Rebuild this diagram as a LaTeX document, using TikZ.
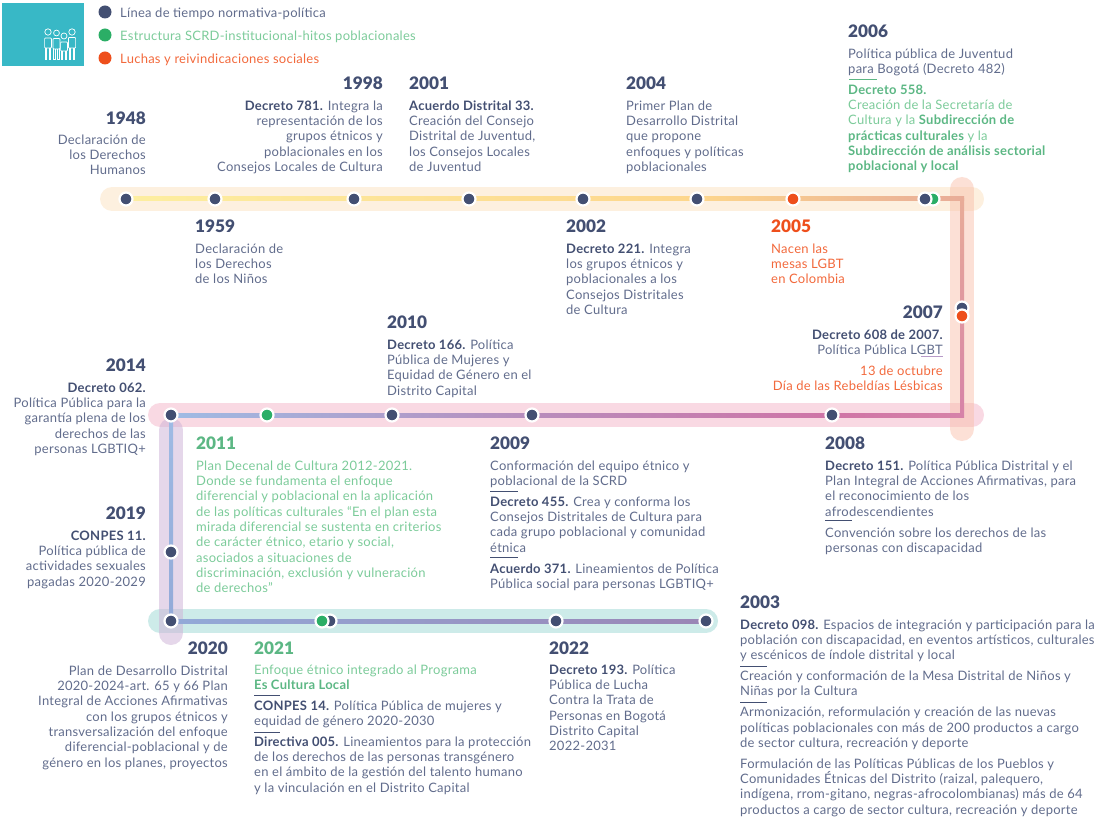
\documentclass[tikz,border=0pt]{standalone}
\usepackage{fontspec}
\setmainfont{Lato}[LetterSpace=2]
\newfontfamily\headfont{Lato Black}
\usetikzlibrary{calc}
\definecolor{navy}{HTML}{434F72}
\definecolor{verde}{HTML}{2BAE66}
\definecolor{naranja}{HTML}{EE4F1C}
\definecolor{grisazul}{HTML}{616C8C}
\definecolor{verdetxt}{HTML}{7CCB9A}
\definecolor{verdebold}{HTML}{5CB784}
\definecolor{naranjatxt}{HTML}{F2693C}
\definecolor{logo}{HTML}{38B8C6}
\definecolor{lila}{HTML}{B79AC8}
% bandas
\definecolor{bcrema}{HTML}{FDF0DF}
\definecolor{brosa}{HTML}{F9D9E3}
\definecolor{bteal}{HTML}{CDEBE9}
\definecolor{bsalmon}{HTML}{F8BEAA}
\definecolor{blila}{HTML}{D0B6D8}
% linea
\definecolor{lamarillo}{HTML}{FDEEA0}
\definecolor{lmiel}{HTML}{FDD68C}
\definecolor{lsalmon}{HTML}{E8AC98}
\definecolor{lrosa}{HTML}{D682A8}
\definecolor{lfucsia}{HTML}{CF74A6}
\definecolor{lmalva}{HTML}{B88CBC}
\definecolor{lazul}{HTML}{9FBBE4}
\definecolor{lazulb}{HTML}{93AAD8}
\definecolor{lviola}{HTML}{9A85B5}
\tikzset{
  band/.style={line width=24pt,line cap=round,draw=#1},
  dot/.style={circle,fill=#1,draw=white,line width=2.2pt,minimum size=13pt,inner sep=0pt},
  year/.style={inner sep=0pt,yshift=-1pt,text=#1,font=\headfont\fontsize{17.2}{18}\selectfont},
  txt/.style={inner sep=0pt,yshift=-2.5pt,text=#1,font=\fontsize{13}{15.3}\selectfont,execute at begin node=\strut},
  txtl/.style={txt=#1,anchor=north west,align=left},
  txtr/.style={txt=#1,anchor=north east,align=right},
  rayita/.style={line width=.8pt,draw=#1}
}
\newcommand{\vb}[1]{{\bfseries\color{verdebold}#1}}
\begin{document}
\begin{tikzpicture}[x=1pt,y=-1pt]
\useasboundingbox (0,0) rectangle (1108,818);
% logo
\fill[logo] (2,3) rectangle (84,66);
\foreach \x/\hy/\hr/\by/\be/\fw in {48/32/3.2/38/48/3.4,56.5/33/2.9/38.5/49/3.5,64/36/3/42/51/3.4,72/32/3.2/37.5/48/3.6}
{
    \draw[white,line width=.7pt] (\x,\hy) circle (\hr);
    \draw[white,line width=.7pt,rounded corners=.8pt] (\x-\fw,\by) rectangle (\x+\fw,\be);
    \foreach \d in {-2,2}
    {
        \draw[white,line width=.7pt] (\x+\d-.8,\be)--(\x+\d-.8,59)--(\x+\d+.8,59)--(\x+\d+.8,\be);
    }
}
% puntos de la linea
\foreach \name/\x/\y in {a1948/126/199,a1959/215/199,a1998/354/199,a2001/469/199,a2002/583/199,a2004/697/199,a2005/793/199,a2006/925/199,b2006/933/199,esqNE/962/199,a2007/962/308,b2007/962/316,esqSE/962/415,a2008/832/415,a2009/532/415,a2010/392/415,a2011/267/415,a2014/171/415,a2019/171/552,a2020/171/621,a2021/330/621,b2021/322/621,a2022/556/621,a2003/706/621}
{
    \coordinate (\name) at (\x,\y);
}
% bandas
\coordinate (t1) at (112,199);
\coordinate (t2) at (972,199);
\coordinate (d1) at (962,189);
\coordinate (d2) at (962,429);
\coordinate (m1) at (160,415);
\coordinate (m2) at (972,415);
\coordinate (i1) at (171,430);
\coordinate (i2) at (171,633);
\coordinate (f1) at (160,621);
\draw[band=bcrema] (t1)--(t2);
\draw[band=brosa] (m1)--(m2);
\draw[band=bteal] (f1)--(a2003);
\draw[band=bsalmon,opacity=.48] (d1)--(d2);
\draw[band=blila,opacity=.55] (i1)--(i2);
% linea de tiempo
\shade[left color=lamarillo,right color=lmiel] ($(a1948)+(0,-2)$) rectangle ($(a2004)+(0,2)$);
\shade[left color=lmiel,right color=lsalmon] ($(a2004)+(0,-2)$) rectangle ($(esqNE)+(2,2)$);
\shade[top color=lsalmon,bottom color=lrosa] ($(esqNE)+(-2,0)$) rectangle ($(esqSE)+(2,2)$);
\shade[left color=lfucsia,right color=lrosa] ($(a2008)+(0,-2)$) rectangle ($(esqSE)+(-2,2)$);
\shade[left color=lmalva,right color=lfucsia] ($(a2009)+(0,-2)$) rectangle ($(a2008)+(0,2)$);
\shade[left color=lazul,right color=lmalva] ($(a2014)+(0,-2)$) rectangle ($(a2009)+(0,2)$);
\shade[top color=lazul,bottom color=lazulb] ($(a2014)+(-2,0)$) rectangle ($(a2020)+(2,0)$);
\shade[left color=lazulb,right color=lviola] ($(a2020)+(0,-2)$) rectangle ($(a2003)+(0,2)$);
% puntos (el orden importa donde se solapan)
\foreach \name/\col in {a1948/navy,a1959/navy,a1998/navy,a2001/navy,a2002/navy,a2004/navy,a2005/naranja,b2006/verde,a2006/navy,a2007/navy,b2007/naranja,a2008/navy,a2009/navy,a2010/navy,a2011/verde,a2014/navy,a2019/navy,a2020/navy,a2021/navy,b2021/verde,a2022/navy,a2003/navy}
{
    \node[dot=\col] (n\name) at (\name) {};
}
% leyenda
\foreach \name/\y/\col/\tcol/\ltext in {l1/12/navy/grisazul/Línea de tiempo normativa-política,l2/35/verde/verdetxt/Estructura SCRD-institucional-hitos poblacionales,l3/58/naranja/naranjatxt/Luchas y reivindicaciones sociales}
{
    \node[dot=\col,draw=none] (\name) at (105,\y) {};
    \node[inner sep=0pt,yshift=-1.5pt,anchor=west,text=\tcol,font=\fontsize{13}{15.3}\selectfont] (t\name) at (120,\y) {\ltext};
}
% anos
\foreach \x/\y/\yr/\lado/\col in {146/117/1948/east/navy,383/82/1998/east/navy,409/82/2001/west/navy,626/82/2004/west/navy,848/30/2006/west/navy,195/225/1959/west/navy,566/225/2002/west/navy,771/225/2005/west/naranja,943/311/2007/east/navy,387/321/2010/west/navy,146/364/2014/east/navy,146/512/2019/east/navy,196/442/2011/west/verdebold,490/442/2009/west/navy,825/442/2008/west/navy,740/601/2003/west/navy,228/647/2020/east/navy,254/647/2021/west/verdebold,549/647/2022/west/navy}
{
    \node[year=\col,anchor=\lado] (y\yr) at (\x,\y) {\yr};
}
% textos
\node[txtr=grisazul] (t1948) at (146,132) {Declaración de\\los Derechos\\Humanos};
\node[txtr=grisazul] (t1998) at (383,98) {\textbf{\color{navy}Decreto 781.} Integra la\\representación de los\\grupos étnicos y\\poblacionales en los\\Consejos Locales de Cultura};
\node[txtl=grisazul] (t2001) at (409,98) {\textbf{\color{navy}Acuerdo Distrital 33.}\\Creación del Consejo\\Distrital de Juventud,\\los Consejos Locales\\de Juventud};
\node[txtl=grisazul] (t2004) at (626,98) {Primer Plan de\\Desarrollo Distrital\\que propone\\enfoques y políticas\\poblacionales};
\node[txtl=grisazul] (t2006) at (848,46) {Política pública de Juventud\\para Bogotá (Decreto 482)};
\node[txtl=verdetxt] (u2006) at (848,82) {\vb{Decreto 558.}\\Creación de la Secretaría de\\Cultura y la \vb{Subdirección de}\\\vb{prácticas culturales} y la\\\vb{Subdirección de análisis sectorial}\\\vb{poblacional y local}};
\node[txtl=grisazul] (t1959) at (195,241) {Declaración de\\los Derechos\\de los Niños};
\node[txtl=grisazul] (t2002) at (566,241) {\textbf{\color{navy}Decreto 221.} Integra\\los grupos étnicos y\\poblacionales a los\\Consejos Distritales\\de Cultura};
\node[txtl=naranjatxt] (t2005) at (771,241) {Nacen las\\mesas LGBT\\en Colombia};
\node[txtr=grisazul] (t2007) at (943,327) {\textbf{\color{navy}Decreto 608 de 2007.}\\Política Pública LGBT};
\node[txtr=naranjatxt] (u2007) at (943,363) {13 de octubre\\Día de las Rebeldías Lésbicas};
\node[txtl=grisazul] (t2010) at (387,337) {\textbf{\color{navy}Decreto 166.} Política\\Pública de Mujeres y\\Equidad de Género en el\\Distrito Capital};
\node[txtr=grisazul] (t2014) at (146,380) {\textbf{\color{navy}Decreto 062.}\\Política Pública para la\\garantía plena de los\\derechos de las\\personas LGBTIQ+};
\node[txtr=grisazul] (t2019) at (146,528) {\textbf{\color{navy}CONPES 11.}\\Política pública de\\actividades sexuales\\pagadas 2020-2029};
\node[txtl=verdetxt] (t2011) at (196,458) {Plan Decenal de Cultura 2012-2021.\\Donde se fundamenta el enfoque\\diferencial y poblacional en la aplicación\\de las políticas culturales “En el plan esta\\mirada diferencial se sustenta en criterios\\de carácter étnico, etario y social,\\asociados a situaciones de\\discriminación, exclusión y vulneración\\de derechos”};
\node[txtl=grisazul] (t2009) at (490,458) {Conformación del equipo étnico y\\poblacional de la SCRD\\[5.5pt]\textbf{\color{navy}Decreto 455.} Crea y conforma los\\Consejos Distritales de Cultura para\\cada grupo poblacional y comunidad\\étnica\\[5.5pt]\textbf{\color{navy}Acuerdo 371.} Lineamientos de Política\\Pública social para personas LGBTIQ+};
\node[txtl=grisazul] (t2008) at (825,458) {\textbf{\color{navy}Decreto 151.} Política Pública Distrital y el\\Plan Integral de Acciones Afirmativas, para\\el reconocimiento de los\\afrodescendientes\\[6pt]Convención sobre los derechos de las\\personas con discapacidad};
\node[txtl=grisazul] (t2003) at (740,617) {\textbf{\color{navy}Decreto 098.} Espacios de integración y participación para la\\población con discapacidad, en eventos artísticos, culturales\\y escénicos de índole distrital y local\\[5.5pt]Creación y conformación de la Mesa Distrital de Niños y\\Niñas por la Cultura\\[5.5pt]Armonización, reformulación y creación de las nuevas\\políticas poblacionales con más de 200 productos a cargo\\de sector cultura, recreación y deporte\\[5.5pt]Formulación de las Políticas Públicas de los Pueblos y\\Comunidades Étnicas del Distrito (raizal, palequero,\\indígena, rrom-gitano, negras-afrocolombianas) más de 64\\productos a cargo de sector cultura, recreación y deporte};
\node[txtr=grisazul] (t2020) at (228,663) {Plan de Desarrollo Distrital\\2020-2024-art. 65 y 66 Plan\\Integral de Acciones Afirmativas\\con los grupos étnicos y\\transversalización del enfoque\\diferencial-poblacional y de\\género en los planes, proyectos};
\node[txtl=verdetxt] (t2021) at (254,662) {Enfoque étnico integrado al Programa\\\vb{Es Cultura Local}};
\node[txtl=grisazul] (u2021) at (254,698) {\textbf{\color{navy}CONPES 14.} Política Pública de mujeres y\\equidad de género 2020-2030\\[5.5pt]\textbf{\color{navy}Directiva 005.} Lineamientos para la protección\\de los derechos de las personas transgénero\\en el ámbito de la gestión del talento humano\\y la vinculación en el Distrito Capital};
\node[txtl=grisazul] (t2022) at (549,662) {\textbf{\color{navy}Decreto 193.} Política\\Pública de Lucha\\Contra la Trata de\\Personas en Bogotá\\Distrito Capital\\2022-2031};
% rayitas
\foreach \xa/\xb/\y/\col in {849/877/79/verdebold,921/943/356/lila,490/518/491/navy,490/518/557/navy,825/852/520/navy,740/767/666/navy,740/767/702/navy,254/280/695/navy,254/280/732/navy}
{
    \draw[rayita=\col] (\xa,\y)--(\xb,\y);
}
\end{tikzpicture}
\end{document}
